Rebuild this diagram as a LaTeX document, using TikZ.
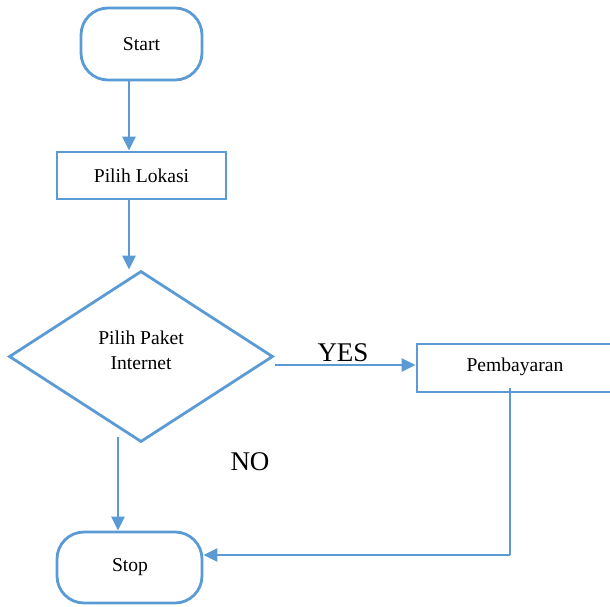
\documentclass[tikz,border=0pt]{standalone}
\usepackage{fontspec}
\setmainfont{Liberation Serif}
\usetikzlibrary{shapes.geometric,arrows.meta}
\definecolor{fblue}{HTML}{5B9BD5}
\tikzset{
  x=1pt,y=-1pt,
  shapeline/.style={draw=fblue,line width=2.8pt,inner sep=0pt},
  termbox/.style={shapeline,rectangle,rounded corners=27pt},
  procbox/.style={shapeline,rectangle},
  decbox/.style={shapeline,diamond},
  txt/.style={font=\fontsize{19.6}{25}\selectfont,inner sep=0pt,align=center},
  bigtxt/.style={font=\fontsize{27}{30}\selectfont,inner sep=0pt},
  arr/.style={draw=fblue,line width=2.8pt,-{Triangle[length=14pt,width=13pt]}},
  thin/.style={draw=fblue,line width=1.2pt},
}
\begin{document}
\begin{tikzpicture}
\useasboundingbox (0,0) rectangle (610,606);
\begin{scope}
\clip (0,0) rectangle (610,606);
\node[termbox,minimum width=121pt,minimum height=72pt] (start) at (141.5,44) {};
\node[txt] (starttxt) at (141.5,44) {Start};
\node[procbox,minimum width=169pt,minimum height=47pt] (lokasi) at (141.5,175.5) {};
\node[txt] (lokasitxt) at (141.5,175.5) {Pilih Lokasi};
\node[decbox,minimum width=264pt,minimum height=171pt] (dia) at (141,356.5) {};
\node[txt] (diatxt) at (141,350) {Pilih Paket\\Internet};
\node[procbox,minimum width=196pt,minimum height=48pt] (pay) at (515,368) {};
\node[txt] (paytxt) at (515,367) {Pembayaran};
\node[termbox,minimum width=145pt,minimum height=71pt] (stop) at (129.5,567.5) {};
\node[txt] (stoptxt) at (130,567) {Stop};
\node[bigtxt] (yes) at (343,353) {YES};
\node[bigtxt] (no) at (250,462) {NO};

\coordinate (ax) at (129,0);
\coordinate (nx) at (118,437);
\coordinate (yy) at (275,365);
\coordinate (ptop) at (510,388);
\coordinate (corner) at (510,555);

\draw[arr] (start.south -| ax) -- (lokasi.north -| ax);
\draw[arr] (lokasi.south -| ax) -- (ax |- dia.north);
\draw[arr] (nx) -- (stop.north -| nx);
\draw[arr] (yy) -- (pay.west |- yy);
\draw[thin] (ptop) -- (corner);
\draw[arr] (corner) -- (stop.east |- corner);
\end{scope}
\end{tikzpicture}
\end{document}
